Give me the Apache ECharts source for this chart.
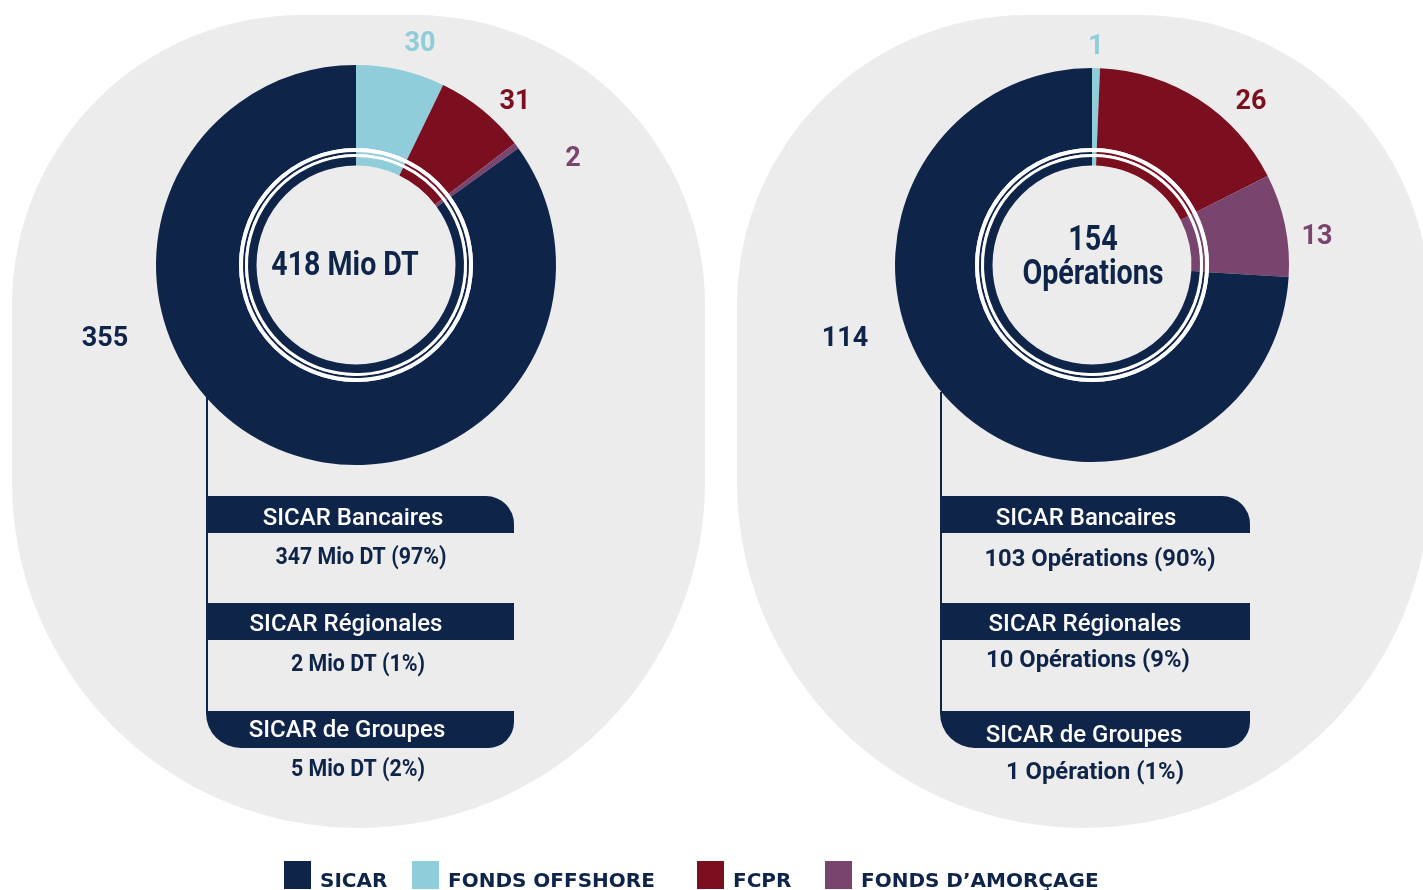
<!DOCTYPE html>
<html>
<head>
<meta charset="utf-8">
<script src="https://cdn.jsdelivr.net/npm/echarts@6/dist/echarts.min.js"></script>
<style>
html,body{margin:0;padding:0;background:#fff;}
#chart{width:1423px;height:890px;}
</style>
</head>
<body>
<div id="chart"></div>
<script>
// ---------- DATA ----------
const categories = ['SICAR', 'Fonds offshore', 'FCPR', 'Fonds d’amorçage'];
const montants = [355, 30, 31, 2];          // Mio DT
const operations = [114, 1, 26, 13];        // nombre d'opérations
const sicarTypes = ['SICAR Bancaires', 'SICAR Régionales', 'SICAR de Groupes'];
const sicarMontants = [347, 2, 5];
const sicarMontantsPct = [97, 1, 2];
const sicarOperations = [103, 10, 1];
const sicarOperationsPct = [90, 9, 1];

// ---------- STYLE / LAYOUT ----------
const colors = ['#0f2449', '#8fcdda', '#7b0f1f', '#79456e'];
const navy = '#0f2449';
const bgGray = '#ececec';
const pieOrder = [1, 2, 3, 0]; // clockwise from top: offshore, FCPR, amorçage, SICAR

const donuts = [
  { cx: 356, cy: 265, R: 200, values: montants,
    labelPos: [[105, 339], [420, 44], [515, 102], [573, 159]] },
  { cx: 1092, cy: 265, R: 197, values: operations,
    labelPos: [[845, 339], [1096, 47], [1251, 102], [1317, 237]] }
];

function pieData(values) {
  return pieOrder.map(i => ({ name: categories[i], value: values[i], itemStyle: { color: colors[i] } }));
}

const series = [];
donuts.forEach((d, di) => {
  const base = {
    type: 'pie', center: [d.cx, d.cy], startAngle: 90, clockwise: true,
    silent: true, animation: false, avoidLabelOverlap: false,
    emphasis: { disabled: true }, itemStyle: { borderWidth: 0 },
    label: { show: false }, labelLine: { show: false }
  };
  series.push(Object.assign({}, base, {
    radius: [117, d.R],
    data: pieData(d.values),
    label: {
      show: true, position: 'outside', formatter: '{c}', color: 'inherit',
      fontFamily: 'Roboto', fontWeight: 'bold', fontSize: 27
    },
    labelLayout: function (p) {
      const idx = pieOrder[p.dataIndex];
      const pos = d.labelPos[idx];
      return { x: pos[0], y: pos[1], align: 'center', verticalAlign: 'middle' };
    }
  }));
  series.push(Object.assign({}, base, { radius: [113, 117], data: [{ name: 'w1', value: 1, itemStyle: { color: '#fff' } }] }));
  series.push(Object.assign({}, base, { radius: [111, 113], data: pieData(d.values) }));
  series.push(Object.assign({}, base, { radius: [108, 111], data: [{ name: 'w2', value: 1, itemStyle: { color: '#fff' } }] }));
  series.push(Object.assign({}, base, { radius: [99.5, 108], data: pieData(d.values) }));
});

const sum = a => a.reduce((s, v) => s + v, 0);

// graphic elements
const graphic = [];
// background capsules
[12, 737].forEach(x => {
  graphic.push({ type: 'rect', z: -10, silent: true,
    shape: { x: x, y: 15, width: 693, height: 813, r: [290, 290, 346, 346] },
    style: { fill: bgGray } });
});

// center texts
graphic.push({ type: 'text', z: 100, x: 345, y: 266, scaleX: 0.84,
  style: { text: sum(montants) + ' Mio DT', fill: navy, font: 'bold 34px Roboto', textAlign: 'center', textVerticalAlign: 'middle' } });
graphic.push({ type: 'text', z: 100, x: 1093, y: 241, scaleX: 0.82,
  style: { text: String(sum(operations)), fill: navy, font: 'bold 35px Roboto', textAlign: 'center', textVerticalAlign: 'middle' } });
graphic.push({ type: 'text', z: 100, x: 1093, y: 275, scaleX: 0.82,
  style: { text: 'Opérations', fill: navy, font: 'bold 35px Roboto', textAlign: 'center', textVerticalAlign: 'middle' } });

// SICAR breakdown boxes
const panels = [
  { x: 207, w: 307, lineTop: 396, headY: [496, 603, 711], headTextY: [519, 625, 731],
    valY: [558, 665, 770], valX: [361, 358, 358], headX: [353, 346, 347],
    valFont: 'bold 23px Roboto', valScale: 0.93,
    texts: sicarMontants.map((v, i) => v + ' Mio DT (' + sicarMontantsPct[i] + '%)') },
  { x: 941, w: 309, lineTop: 392, headY: [496, 603, 711], headTextY: [519, 625, 736],
    valY: [560, 661, 773], valX: [1100, 1088, 1095], headX: [1086, 1085, 1084],
    valFont: 'bold 24px Roboto', valScale: 0.99,
    texts: sicarOperations.map((v, i) => v + (v > 1 ? ' Opérations (' : ' Opération (') + sicarOperationsPct[i] + '%)') }
];
const rads = [[0, 28, 0, 0], [0, 0, 0, 0], [0, 0, 26, 35]];
panels.forEach(p => {
  graphic.push({ type: 'rect', z: 50, silent: true,
    shape: { x: p.x - 1, y: p.lineTop, width: 2, height: 714 - p.lineTop }, style: { fill: navy } });
  sicarTypes.forEach((t, i) => {
    graphic.push({ type: 'rect', z: 50, silent: true,
      shape: { x: p.x - 1, y: p.headY[i], width: p.w + 1, height: 37, r: rads[i] }, style: { fill: navy } });
    graphic.push({ type: 'text', z: 60, silent: true, x: p.headX[i], y: p.headTextY[i],
      style: { text: t, fill: '#fff', font: '500 24px Roboto', textAlign: 'center', textVerticalAlign: 'middle' } });
    graphic.push({ type: 'text', z: 60, silent: true, x: p.valX[i], y: p.valY[i], scaleX: p.valScale,
      style: { text: p.texts[i], fill: navy, font: p.valFont, textAlign: 'center', textVerticalAlign: 'middle' } });
  });
});

// legends (one per item to match spacing)
const legendLeft = [284, 412, 697, 825];
const baseText = { color: navy, fontFamily: 'DejaVu Sans', fontWeight: 'bold', fontSize: 20 };
const legends = categories.map((c, i) => ({
  left: legendLeft[i], top: 861, padding: 0, orient: 'horizontal', itemWidth: 27, itemHeight: 28, icon: 'rect',
  selectedMode: false, data: [c],
  formatter: n => '{t|' + n.toUpperCase() + '}',
  textStyle: Object.assign({}, baseText, { padding: [0, 0, 0, 4], rich: { t: Object.assign({}, baseText, { padding: [14, 0, 0, 0] }) } })
}));

const chart = echarts.init(document.getElementById('chart'), null, { renderer: 'canvas' });
chart.setOption({
  backgroundColor: '#fff',
  animation: false,
  color: colors,
  legend: legends,
  graphic: graphic,
  series: series
});
</script>
</body>
</html>
